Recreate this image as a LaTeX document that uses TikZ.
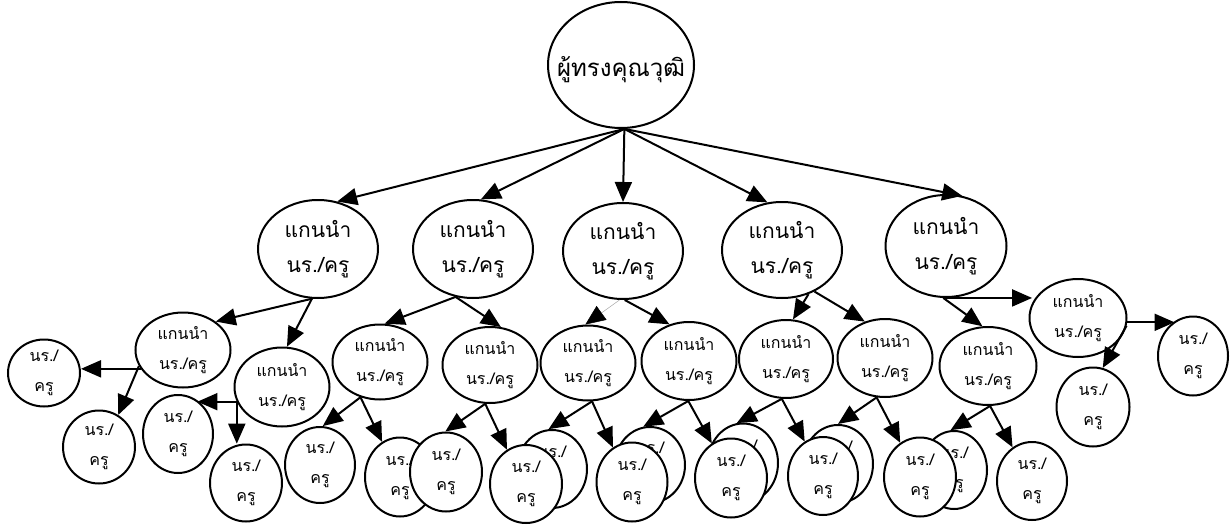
\documentclass[tikz,border=0pt]{standalone}
\usepackage{fontspec}
\newfontfamily\thaifont[Script=Thai]{Loma}
\usetikzlibrary{shapes.geometric,arrows.meta}
\tikzset{
  sz/.style 2 args={minimum width=#1pt, minimum height=#2pt},
  bub/.style={ellipse, draw, line width=2pt, fill=white, inner sep=0pt, align=center},
  topfont/.style={font=\thaifont\fontsize{24}{30}\selectfont},
  lvtwo/.style={bub, font=\thaifont\fontsize{21}{35}\selectfont},
  lvthree/.style={bub, font=\thaifont\fontsize{16}{30}\selectfont},
  leaf/.style={bub, font=\thaifont\fontsize{16}{30}\selectfont},
  arr/.style={line width=2pt, -{Triangle[length=20pt,width=17pt]}},
  thinarr/.style={draw=gray!70, line width=0.5pt, -{Triangle[length=20pt,width=17pt,color=black,fill=black]}},
}
\begin{document}
\begin{tikzpicture}[x=1pt,y=-1pt]
\useasboundingbox (0,0) rectangle (1232,527);
% top
\node[bub, sz={146}{126}, label={[topfont, name=Tt, yshift=-5pt]center:ผู้ทรงคุณวุฒิ}] (T) at (621,65) {};
% level 2
\node[lvtwo, sz={120}{98}] (Pa) at (318,249) {แกนนำ\\นร./ครู};
\node[lvtwo, sz={120}{98}] (Pb) at (473,249) {แกนนำ\\นร./ครู};
\node[lvtwo, sz={120}{96}] (Pc) at (623,251) {แกนนำ\\นร./ครู};
\node[lvtwo, sz={120}{96}] (Pd) at (782,250) {แกนนำ\\นร./ครู};
\node[lvtwo, sz={121}{102}] (Pe) at (946,246) {แกนนำ\\นร./ครู};
% level 3
\node[lvthree, sz={95}{75}] (Qa) at (183,350) {แกนนำ\\นร./ครู};
\node[lvthree, sz={95}{79}] (Qb) at (282,387) {แกนนำ\\นร./ครู};
\node[lvthree, sz={95}{75}] (Qc) at (380,362) {แกนนำ\\นร./ครู};
\node[lvthree, sz={95}{76}] (Qd) at (490,365) {แกนนำ\\นร./ครู};
\node[lvthree, sz={95}{75}] (Qe) at (588,363) {แกนนำ\\นร./ครู};
\node[lvthree, sz={95}{78}] (Qf) at (689,361) {แกนนำ\\นร./ครู};
\node[lvthree, sz={94}{78}] (Qg) at (786,359) {แกนนำ\\นร./ครู};
\node[lvthree, sz={95}{78}] (Qh) at (885,358) {แกนนำ\\นร./ครู};
\node[lvthree, sz={97}{78}] (Qi) at (988,366) {แกนนำ\\นร./ครู};
\node[lvthree, sz={97}{78}] (Qj) at (1078,318) {แกนนำ\\นร./ครู};
% leaves
\node[leaf, sz={72}{67}] (A) at (44,373) {นร./\\ครู};
\node[leaf, sz={72}{73}] (B) at (99,447) {นร./\\ครู};
\node[leaf, sz={70}{78}] (C) at (178,434) {นร./\\ครู};
\node[leaf, sz={72}{77}] (D) at (246,483) {นร./\\ครู};
\node[leaf, sz={70}{76}] (E5) at (320,465) {นร./\\ครู};
% back leaves
\node[leaf, sz={70}{79}] (L6) at (400,477) {นร./\\ครู};
\node[leaf, sz={70}{78}] (L8) at (552,469) {นร./\\ครู};
\node[leaf, sz={70}{76}] (L10) at (650,465) {นร./\\ครู};
\node[leaf, sz={70}{79}] (L12) at (743,463) {นร./\\ครู};
\node[leaf, sz={70}{78}] (L14) at (838,464) {นร./\\ครู};
\node[leaf, sz={66}{78}] (L16) at (954,470) {นร./\\ครู};
% front leaves
\node[leaf, sz={72}{79}] (L7) at (446,472) {นร./\\ครู};
\node[leaf, sz={72}{78}] (L9) at (526,484) {นร./\\ครู};
\node[leaf, sz={71}{79}] (L11) at (632,482) {นร./\\ครู};
\node[leaf, sz={72}{79}] (L13) at (731,478) {นร./\\ครู};
\node[leaf, sz={70}{78}] (L15) at (823,476) {นร./\\ครู};
\node[leaf, sz={72}{79}] (L17) at (920,477) {นร./\\ครู};
\node[leaf, sz={70}{78}] (L18) at (1032,481) {นร./\\ครู};
\node[leaf, sz={73}{79}] (L19) at (1093,407) {นร./\\ครู};
\node[leaf, sz={70}{79}] (L20) at (1193,356) {นร./\\ครู};
% arrows top -> level 2
\draw[arr] (T.-87) -- (Pa.68);
\draw[arr] (T.-87) -- (Pb.81);
\draw[arr] (T.-87) -- (Pc.90);
\draw[arr] (T.-87) -- (Pd.107);
\draw[arr] (T.-87) -- (Pe.72);
% level 2 -> level 3
\draw[arr] (Pa.-97) -- (Qa.41);
\draw[arr] (Pa.-97) -- (Qb.83);
\draw[arr] (Pb.-110) -- (Qc.83);
\draw[arr] (Pb.-110) -- (Qd.74);
\draw[thinarr] (Pc.-94) -- (Qe.94);
\draw[arr] (Pc.-88) -- (Qf.118);
\draw[arr] (Pd.-59) -- (Qg.80);
\draw[arr] (Pd.-52) -- (Qh.119);
\draw[arr] (Pe.-93) -- (Pe.-93 -| Qj.162);
\draw[arr] (Pe.-93) -- (Qi.98);
% level 3 -> leaves
\draw[arr] (Qa.-156) -- (Qa.-156 -| A.east);
\draw[arr] (Qa.-160) -- (B.59);
\draw[arr] (Qb.-162) -- (Qb.-162 -| C.60);
\draw[arr] (Qb.-162) -- (Qb.-162 |- D.95);
\draw[arr] (Qc.-119) -- (E5.86);
\draw[arr] (Qc.-119) -- (L6.117);
\draw[arr] (Qd.-97) -- (L7.91);
\draw[arr] (Qd.-97) -- (L9.119);
\draw[arr] (Qe.-84) -- (L8.95);
\draw[arr] (Qe.-84) -- (L11.119);
\draw[arr] (Qf.-91) -- (L10.100);
\draw[arr] (Qf.-91) -- (L13.119);
\draw[arr] (Qg.-96) -- (L12.99);
\draw[arr] (Qg.-96) -- (L15.118);
\draw[arr] (Qh.-102) -- (L14.90);
\draw[arr] (Qh.-102) -- (L17.120);
\draw[arr] (Qi.-87) -- (L16.95);
\draw[arr] (Qi.-87) -- (L18.120);
\draw[arr] (Qj.-5) -- (Qj.-5 -| L20.118);
\draw[arr] (Qj.-9) -- (L19.76);
\end{tikzpicture}
\end{document}
